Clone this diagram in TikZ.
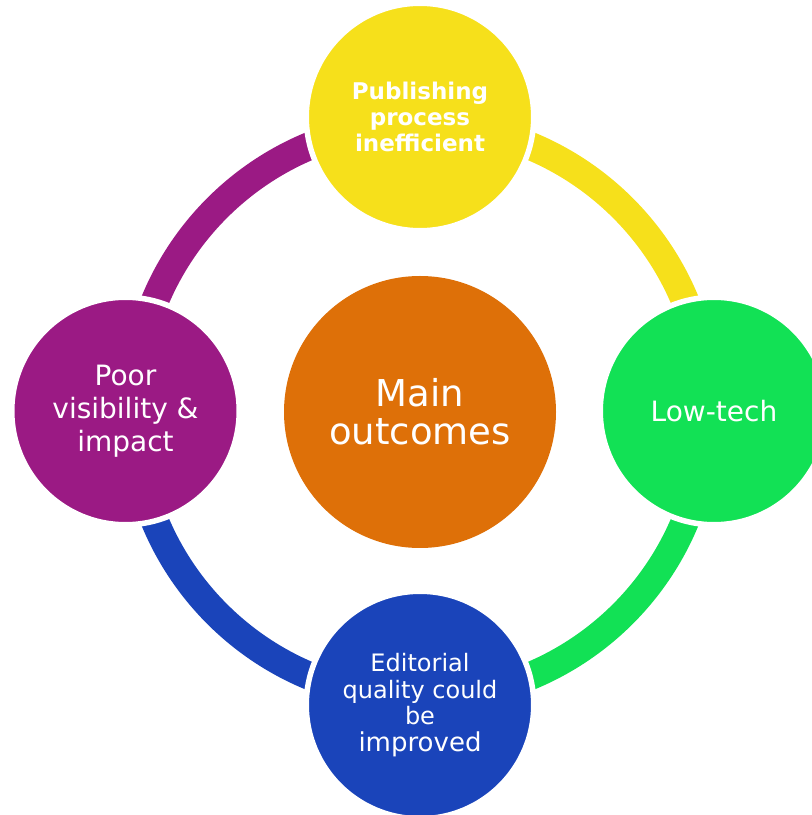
\documentclass[tikz,border=0pt]{standalone}
\usepackage{fontspec}
\setmainfont{DejaVu Sans}
\definecolor{cyel}{HTML}{F6E01B}
\definecolor{cgrn}{HTML}{12E155}
\definecolor{cpur}{HTML}{9B1A84}
\definecolor{cblu}{HTML}{1A44BA}
\definecolor{corg}{HTML}{DE7008}
\tikzset{
  sat/.style={circle, minimum size=227.5pt, inner sep=0pt, draw=white, line width=5.5pt, text=white, align=center},
  ring/.style={line width=28pt}
}
\begin{document}
\begin{tikzpicture}[x=1pt,y=1pt]
\useasboundingbox (0,0) rectangle (812,815);
\coordinate (O) at (420,404);
% ring arcs
\draw[ring, cyel] ([shift={(90:287pt)}]O) arc[start angle=90, end angle=0, radius=287pt];
\draw[ring, cgrn] ([shift={(0:287pt)}]O) arc[start angle=0, end angle=-90, radius=287pt];
\draw[ring, cblu] ([shift={(-90:287pt)}]O) arc[start angle=-90, end angle=-180, radius=287pt];
\draw[ring, cpur] ([shift={(180:287pt)}]O) arc[start angle=180, end angle=90, radius=287pt];
% center
\node[circle, minimum size=272pt, inner sep=0pt, fill=corg, text=white, align=center,
      font=\fontsize{37}{38}\selectfont] (main) at (420,403) {Main\\outcomes};
% satellites
\node[sat, fill=cyel, font=\fontsize{23}{26}\selectfont\bfseries] (top) at (420,698) {Publishing\\process\\inefficient};
\node[sat, fill=cgrn, font=\fontsize{28}{33}\selectfont] (right) at (714,404) {Low-tech};
\node[sat, fill=cblu, font=\fontsize{24}{26.5}\selectfont] (bottom) at (420,110) {Editorial\\quality could\\be\\{\fontsize{26}{28}\selectfont improved}};
\node[sat, fill=cpur, font=\fontsize{28}{33}\selectfont] (left) at (125.5,404) {Poor\\visibility \&\\impact};
\end{tikzpicture}
\end{document}
